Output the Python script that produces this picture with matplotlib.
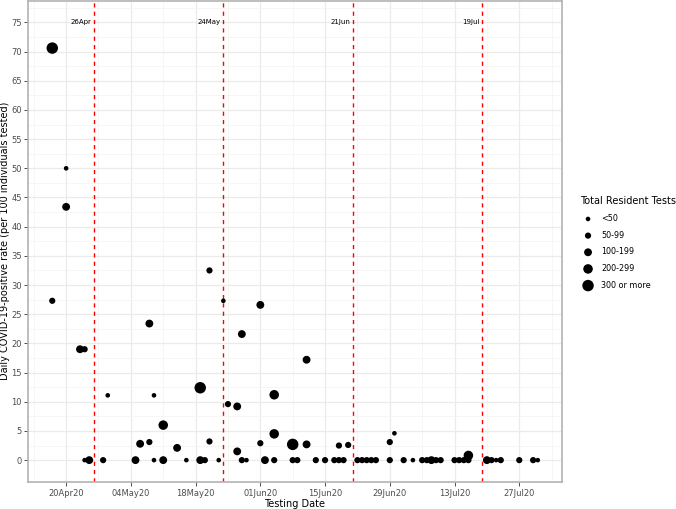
import numpy as np
import pandas as pd
import matplotlib
matplotlib.use('Agg')
import matplotlib.pyplot as plt
import matplotlib.dates as mdates

# dados: data, taxa, categoria de tamanho (0..4)
datas = [
    '2020-04-17', '2020-04-17', '2020-04-20', '2020-04-20', '2020-04-23', '2020-04-24',
    '2020-04-24', '2020-04-25', '2020-04-28', '2020-04-29', '2020-05-05', '2020-05-06',
    '2020-05-08', '2020-05-08', '2020-05-09', '2020-05-09', '2020-05-11', '2020-05-11',
    '2020-05-14', '2020-05-16', '2020-05-19', '2020-05-19', '2020-05-20', '2020-05-21',
    '2020-05-21', '2020-05-23', '2020-05-24', '2020-05-25', '2020-05-27', '2020-05-27',
    '2020-05-28', '2020-05-28', '2020-05-29', '2020-06-01', '2020-06-01', '2020-06-02',
    '2020-06-04', '2020-06-04', '2020-06-04', '2020-06-08', '2020-06-08', '2020-06-09',
    '2020-06-11', '2020-06-11', '2020-06-13', '2020-06-15', '2020-06-17', '2020-06-18',
    '2020-06-18', '2020-06-19', '2020-06-20', '2020-06-22', '2020-06-23', '2020-06-24',
    '2020-06-25', '2020-06-26', '2020-06-29', '2020-06-29', '2020-06-30', '2020-07-02',
    '2020-07-04', '2020-07-06', '2020-07-07', '2020-07-08', '2020-07-09', '2020-07-10',
    '2020-07-13', '2020-07-14', '2020-07-15', '2020-07-16', '2020-07-16', '2020-07-20',
    '2020-07-21', '2020-07-22', '2020-07-23', '2020-07-27', '2020-07-30', '2020-07-31',
]
taxas = [
    70.6, 27.3, 50.0, 43.4, 19.0, 19.0,
    0, 0, 0, 11.1, 0, 2.8,
    23.4, 3.1, 11.1, 0, 6.0, 0,
    2.1, 0, 12.4, 0, 0, 32.5,
    3.2, 0, 27.3, 9.6, 9.2, 1.5,
    21.6, 0, 0, 26.6, 2.9, 0,
    11.2, 4.5, 0, 2.7, 0, 0,
    17.2, 2.7, 0, 0, 0, 2.5,
    0, 0, 2.6, 0, 0, 0,
    0, 0, 3.1, 0, 4.6, 0,
    0, 0, 0, 0, 0, 0,
    0, 0, 0, 0.8, 0, 0,
    0, 0, 0, 0, 0, 0,
]
categorias = [
    4, 1, 0, 2, 2, 1,
    0, 2, 1, 0, 2, 2,
    2, 1, 0, 0, 3, 2,
    2, 0, 4, 2, 1, 1,
    1, 0, 0, 1, 2, 2,
    2, 1, 0, 2, 1, 2,
    3, 3, 1, 4, 1, 1,
    2, 2, 1, 1, 1, 1,
    1, 1, 1, 1, 1, 1,
    1, 1, 1, 1, 0, 1,
    0, 1, 1, 2, 1, 1,
    1, 1, 1, 3, 1, 2,
    1, 0, 1, 1, 1, 0,
]

ROTULOS = ['<50', '50-99', '100-199', '200-299', '300 or more']
TAMANHOS = [11, 20, 32, 47, 68]

LINHAS_DATAS = ['2020-04-26', '2020-05-24', '2020-06-21', '2020-07-19']
LINHAS_ROTULOS = ['26Apr', '24May', '21Jun', '19Jul']

df = pd.DataFrame({'data': pd.to_datetime(datas), 'taxa': taxas, 'cat': categorias})

fig = plt.figure(figsize=(6.76, 5.09), dpi=100)
ax = fig.add_axes([0.0414, 0.053, 0.79, 0.946])

# fundo estilo theme_bw
ax.set_axisbelow(True)
ax.grid(True, which='major', color='#ebebeb', linewidth=0.9)
ax.grid(True, which='minor', color='#f3f3f3', linewidth=0.5)
for s in ax.spines.values():
    s.set_color('#b3b3b3')
    s.set_linewidth(1.2)

for i, rotulo in enumerate(ROTULOS):
    sub = df[df['cat'] == i]
    ax.scatter(sub['data'], sub['taxa'], s=TAMANHOS[i], color='black',
               edgecolors='none', label=rotulo, zorder=3)

for d, r in zip(LINHAS_DATAS, LINHAS_ROTULOS):
    d = pd.Timestamp(d)
    ax.axvline(d, color='red', linestyle=(0, (3, 3)), linewidth=1.0, zorder=2)
    ax.text(d - pd.Timedelta(hours=14), 75, r, ha='right', va='center',
            fontsize=5, color='black')

# escalas
inicio = df['data'].min()
fim = df['data'].max()
margem = (fim - inicio) * 0.05
ax.set_xlim(inicio - margem, fim + margem)
ax.set_ylim(-3.75, 78.75)

ticks_maiores = pd.date_range('2020-04-20', '2020-07-27', freq='14D')
ticks_menores = pd.date_range('2020-04-13', '2020-08-03', freq='14D')
ax.set_xticks(ticks_maiores)
ax.set_xticks(ticks_menores, minor=True)
ax.xaxis.set_major_formatter(mdates.DateFormatter('%d%b%y'))
ax.set_yticks(np.arange(0, 76, 5))
ax.set_yticks(np.arange(2.5, 78, 5), minor=True)

ax.tick_params(axis='both', which='major', labelsize=6, labelcolor='#4d4d4d',
               color='#333333', length=3, width=0.6, pad=2)
ax.tick_params(axis='y', which='major', pad=1.5)
ax.tick_params(axis='both', which='minor', length=0)

ax.set_xlabel('Testing Date', fontsize=7, labelpad=1)
ax.set_ylabel('Daily COVID-19-positive rate (per 100 individuals tested)',
              fontsize=7)
ax.yaxis.set_label_coords(-0.0335, 0.5)

leg = ax.legend(title='Total Resident Tests', loc='upper left',
                bbox_to_anchor=(0.852, 0.622), bbox_transform=fig.transFigure,
                frameon=False, fontsize=5.8, title_fontsize=7,
                labelspacing=0.95, handletextpad=0.6, borderpad=0)
leg._legend_box.align = 'left'

fig.savefig('out.png', dpi=100)
